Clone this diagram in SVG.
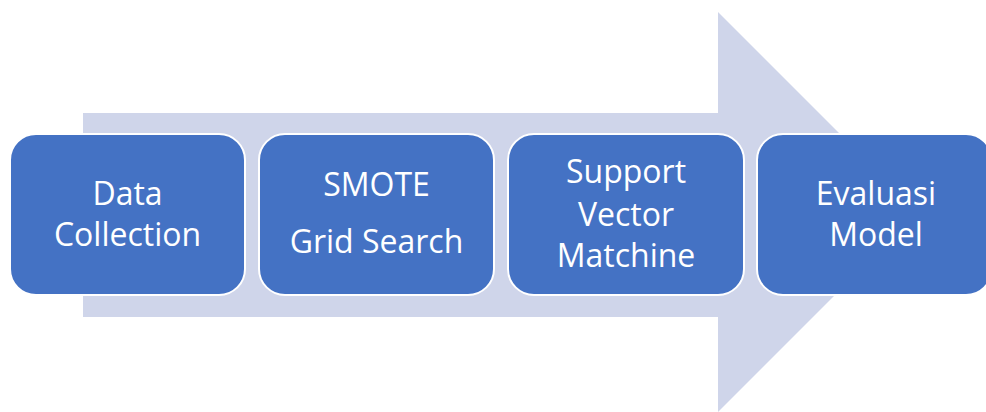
<svg xmlns="http://www.w3.org/2000/svg" width="986" height="412" viewBox="0 0 986 412">
  <style>
    .step { fill: #4472C4; stroke: #FFFFFF; stroke-width: 2; }
    .label { font-family: "Open Sans", "Noto Sans", "Liberation Sans", sans-serif; font-size: 32px; fill: #FFFFFF; text-anchor: middle; }
  </style>
  <rect width="986" height="412" fill="#FFFFFF"/>
  <!-- background process arrow -->
  <g id="connectors">
    <path d="M83,113 H718 V12 L918,212 L718,412 V317 H83 Z" fill="#CFD5EA"/>
  </g>
  <g id="step-data-collection">
    <rect class="step" x="10" y="134" width="235" height="161" rx="26" ry="26"/>
    <text class="label" x="127.5" y="205">Data</text>
    <text class="label" x="127.5" y="246">Collection</text>
  </g>
  <g id="step-smote-grid-search">
    <rect class="step" x="259" y="134" width="235" height="161" rx="26" ry="26"/>
    <text class="label" x="376.5" y="196">SMOTE</text>
    <text class="label" x="376.5" y="253">Grid Search</text>
  </g>
  <g id="step-svm">
    <rect class="step" x="508" y="134" width="236" height="161" rx="26" ry="26"/>
    <text class="label" x="626" y="183">Support</text>
    <text class="label" x="626" y="226">Vector</text>
    <text class="label" x="626" y="267">Matchine</text>
  </g>
  <g id="step-evaluasi-model">
    <rect class="step" x="757" y="134" width="235" height="161" rx="26" ry="26"/>
    <text class="label" x="876" y="205">Evaluasi</text>
    <text class="label" x="876" y="246">Model</text>
  </g>
</svg>
